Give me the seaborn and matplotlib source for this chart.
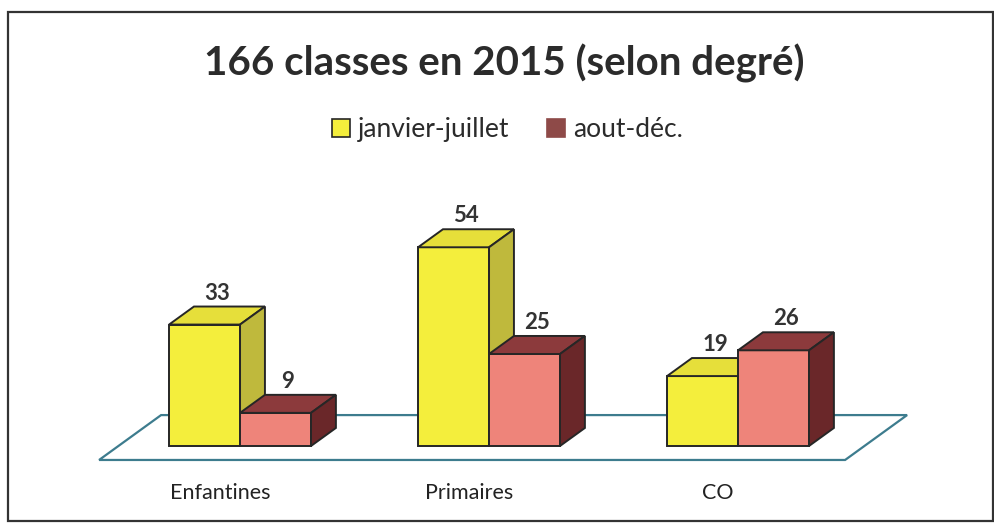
import pandas as pd
import seaborn as sns
import matplotlib.pyplot as plt
from matplotlib.patches import Polygon, Rectangle, Patch

# data
categories = ["Enfantines", "Primaires", "CO"]
periods = ["janvier-juillet", "aout-déc."]
jan_juil = [33, 54, 19]
aout_dec = [9, 25, 26]
title = "166 classes en 2015 (selon degré)"

df = pd.DataFrame({
    "degre": categories * 2,
    "periode": [periods[0]] * 3 + [periods[1]] * 3,
    "classes": jan_juil + aout_dec,
})

# colours of the three faces of each box: front, top, side
faces = {
    periods[0]: ("#F4EE3C", "#E6DF3A", "#BFB93C"),
    periods[1]: ("#EE847A", "#8C3A3C", "#6A2729"),
}
edge = "#262626"
floor_col = "#3D7C8E"

sns.set_style("white")
plt.rcParams["font.family"] = ["Lato", "DejaVu Sans"]

fig = plt.figure(figsize=(9.95, 5.24), dpi=100)
ax = fig.add_axes([0, 0, 1, 1])

sns.barplot(data=df, x="degre", y="classes", hue="periode",
            palette=[faces[p][0] for p in periods], width=0.57,
            edgecolor=edge, linewidth=1.4, saturation=1,
            legend=False, ax=ax)

# axis scale chosen so the boxes land where they are in the scan
ax.set_xlim(-0.964, 3.032)
ax.set_ylim(-21.2, 121.2)
ax.set_axis_off()

# fake 3D depth
dx, dy = 0.10, 4.9

# floor
x_left, x_right = -0.566, 2.43
y_front, y_back = -3.8, 8.4
fdx = (y_back - y_front) / dy * dx
floor = Polygon([(x_left, y_front), (x_right, y_front),
                 (x_right + fdx, y_back), (x_left + fdx, y_back)],
                closed=True, fill=False, edgecolor=floor_col, lw=1.6, zorder=1)
ax.add_patch(floor)

bars = [p for p in ax.patches if isinstance(p, Rectangle)]
for k, bar in enumerate(bars):
    j = k // len(categories)
    _, top_c, side_c = faces[periods[j]]
    x, w, h = bar.get_x(), bar.get_width(), bar.get_height()
    z = 3 + j
    bar.set_zorder(z)
    top = Polygon([(x, h), (x + w, h), (x + w + dx, h + dy), (x + dx, h + dy)],
                  closed=True, facecolor=top_c, edgecolor=edge, lw=1.4, zorder=z)
    side = Polygon([(x + w, 0), (x + w + dx, dy), (x + w + dx, h + dy), (x + w, h)],
                   closed=True, facecolor=side_c, edgecolor=edge, lw=1.4, zorder=z)
    ax.add_patch(top)
    ax.add_patch(side)
    ax.text(x + w / 2 + dx / 2, h + dy + 0.8, f"{int(h)}", ha="center", va="bottom",
            fontsize=16, fontweight="bold", color="#333333", zorder=6)

for i, cat in enumerate(categories):
    ax.text(i - 0.08, -12.8, cat, ha="center", va="center", fontsize=15.5, color="#222222")

fig.text(0.507, 0.878, title, ha="center", va="center",
         fontsize=29, fontweight="bold", color="#2b2b2b")

handles = [Patch(facecolor=faces[periods[0]][0], edgecolor=edge, lw=1.2),
           Patch(facecolor="#8E4A48", edgecolor="#8E4A48", lw=1.2)]
fig.legend(handles, periods, loc="center", bbox_to_anchor=(0.51, 0.752), ncol=2,
           frameon=False, fontsize=19, handlelength=0.7, handleheight=0.7,
           handletextpad=0.3, columnspacing=1.4, labelcolor="#2b2b2b")

# frame round the chart
fig.patches.append(Rectangle((0.008, 0.006), 0.99, 0.971, transform=fig.transFigure,
                             fill=False, edgecolor="#333333", lw=1.6))

plt.savefig("out.png", dpi=100)
